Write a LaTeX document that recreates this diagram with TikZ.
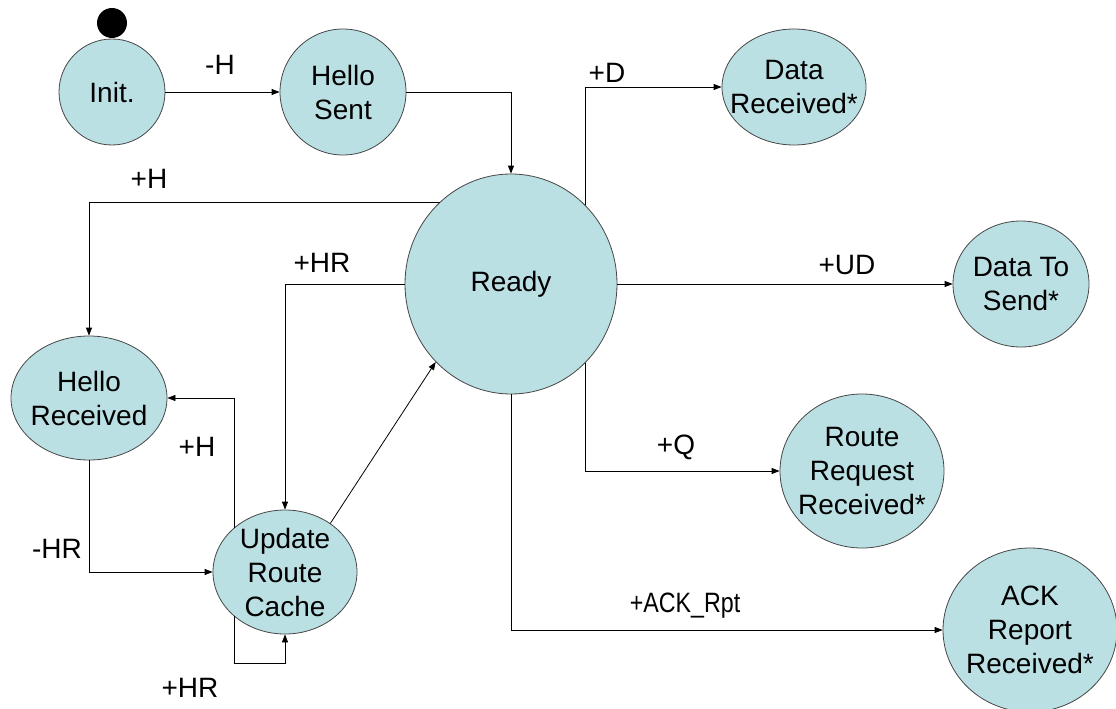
\documentclass[tikz,border=0pt]{standalone}
\usepackage{fontspec}
\setmainfont{Liberation Sans}
\usetikzlibrary{shapes.geometric,arrows.meta}
\definecolor{stfill}{RGB}{187,224,228}
\definecolor{stline}{RGB}{70,70,70}
\begin{document}
\begin{tikzpicture}[x=1pt,y=-1pt,
  state/.style={ellipse, draw=stline, line width=0.8pt, fill=stfill, inner sep=0pt},
  sttext/.style={font=\fontsize{28}{34}\selectfont, align=center, inner sep=0pt},
  elabel/.style={font=\fontsize{28}{34}\selectfont, inner sep=0pt},
  conn/.style={draw=black, line width=0.8pt, -{Triangle[length=8pt,width=6pt]}}]
\useasboundingbox (0,0) rectangle (1116,709);

% states
\node[circle, fill=black, minimum size=30pt, inner sep=0pt] (start) at (112,23) {};
\node[state, minimum width=106pt, minimum height=106pt, label={[sttext]center:Init.}] (init) at (112,92) {};
\node[state, minimum width=126pt, minimum height=126pt, label={[sttext]center:Hello\\Sent}] (hsent) at (343,92) {};
\node[state, minimum width=212pt, minimum height=220pt, label={[sttext]center:Ready}] (ready) at (511,284) {};
\node[state, minimum width=156pt, minimum height=124pt, label={[sttext]center:Hello\\Received}] (hrec) at (89,398) {};
\node[state, minimum width=144pt, minimum height=124pt, label={[sttext]center:Update\\Route\\Cache}] (upd) at (285,572) {};
\node[state, minimum width=144pt, minimum height=116pt, label={[sttext]center:Data\\Received*}] (drec) at (794,87) {};
\node[state, minimum width=136pt, minimum height=126pt, label={[sttext]center:Data To\\Send*}] (dsend) at (1021,284) {};
\node[state, minimum width=164pt, minimum height=154pt, label={[sttext]center:Route\\Request\\Received*}] (rreq) at (862,471) {};
\node[state, minimum width=174pt, minimum height=164pt, label={[sttext]center:ACK\\Report\\Received*}] (ack) at (1030,630) {};

% connectors
\draw[conn] (init) -- (hsent);
\draw[conn] (hsent.east) -| (ready.north);
\draw[conn] (ready.131) -| (hrec.north);
\draw[conn] (ready.west) -| (upd.north);
\draw[conn] (upd.47) -- (ready.226);
\draw[conn] (upd.139) |- (hrec.east);
\draw[conn] (hrec.south) |- (upd.west);
\draw[conn] (upd.221) -- ++(0,47) -| (upd.south);
\draw[conn] (ready.47) |- (drec.west);
\draw[conn] (ready.east) -- (dsend.west);
\draw[conn] (ready.-47) |- (rreq.west);
\draw[conn] (ready.south) |- (ack.west);

% transition labels
\node[elabel] (lh1) at (220,65) {-H};
\node[elabel] (lh2) at (149,179) {+H};
\node[elabel] (lhr1) at (322,263) {+HR};
\node[elabel] (lh3) at (197,447) {+H};
\node[elabel] (lhr2) at (57,549) {-HR};
\node[elabel] (lhr3) at (190,688) {+HR};
\node[elabel] (ld) at (607,73) {+D};
\node[elabel] (lud) at (847,265) {+UD};
\node[elabel] (lq) at (676,447) {+Q};
\node[elabel] (lack) at (685,606) {\scalebox{0.83}[1]{+ACK\_Rpt}};
\end{tikzpicture}
\end{document}
